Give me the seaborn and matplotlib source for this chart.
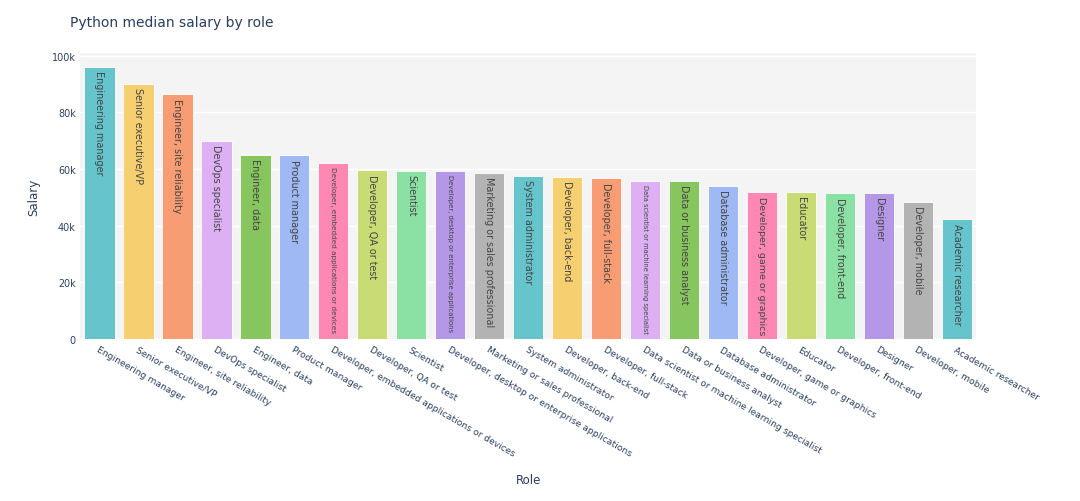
import pandas as pd
import matplotlib.pyplot as plt
import seaborn as sns
from matplotlib.ticker import FuncFormatter

roles = [
    "Engineering manager", "Senior executive/VP", "Engineer, site reliability",
    "DevOps specialist", "Engineer, data", "Product manager",
    "Developer, embedded applications or devices", "Developer, QA or test",
    "Scientist", "Developer, desktop or enterprise applications",
    "Marketing or sales professional", "System administrator",
    "Developer, back-end", "Developer, full-stack",
    "Data scientist or machine learning specialist", "Data or business analyst",
    "Database administrator", "Developer, game or graphics", "Educator",
    "Developer, front-end", "Designer", "Developer, mobile", "Academic researcher",
]
salary = [
    96100, 90000, 86400, 70000, 65000, 64800, 62300, 59600, 59300, 59300,
    58600, 57600, 57200, 56700, 55800, 55800, 54000, 51800, 51800, 51500,
    51500, 48500, 42200,
]

pastel = ["#66c5cc", "#f6cf71", "#f89c74", "#dcb0f2", "#87c55f", "#9eb9f3",
          "#fe88b1", "#c9db74", "#8be0a4", "#b497e7", "#b3b3b3"]
colors = [pastel[i % len(pastel)] for i in range(len(roles))]

df = pd.DataFrame({"Role": roles, "Salary": salary})

sns.set_theme(style="white")
plt.rcParams["font.family"] = ["DejaVu Sans"]
text_col = "#2a3f5f"

fig = plt.figure(figsize=(10.8, 5.02), dpi=100)
ax = fig.add_axes([0.074, 0.3227, 0.83, 0.57])
ax.set_facecolor("#f4f4f4")

sns.barplot(data=df, x="Role", y="Salary", hue="Role", palette=colors,
            legend=False, width=0.78, saturation=1, ax=ax,
            edgecolor="#ffffff", linewidth=0.6)

ax.set_ylim(0, 101000)
ax.set_xlim(-0.5, len(roles) - 0.5)
ax.set_yticks(range(0, 100001, 20000))
ax.yaxis.set_major_formatter(FuncFormatter(lambda v, p: "0" if v == 0 else f"{int(v/1000)}k"))
ax.grid(axis="y", color="white", linewidth=1)
ax.set_axisbelow(True)
for s in ax.spines.values():
    s.set_visible(False)

ax.tick_params(axis="y", length=0, pad=3, labelsize=6.9, labelcolor=text_col)
ax.tick_params(axis="x", length=0, pad=4, labelsize=6.6, labelcolor=text_col)
plt.setp(ax.get_xticklabels(), rotation=-30, ha="left", va="top", rotation_mode="anchor")

ax.set_xlabel("Role", fontsize=8.5, color=text_col)
ax.set_ylabel("Salary", fontsize=8.5, color=text_col, labelpad=8)
ax.xaxis.set_label_coords(0.5, -0.47)
fig.text(0.065, 0.955, "Python median salary by role", fontsize=10, color=text_col,
         ha="left", va="center")

# labels inside bars, shrunk to fit like plotly does
fig.canvas.draw()
renderer = fig.canvas.get_renderer()
px_per_unit = ax.transData.transform((0, 1000))[1] - ax.transData.transform((0, 0))[1]
for i, (r, v) in enumerate(zip(roles, salary)):
    t = ax.text(i, v - 1200, r, rotation=270, ha="center", va="top",
                fontsize=6.9, color="#444444")
    h = t.get_window_extent(renderer).height
    avail = v / 1000 * px_per_unit - 8
    if h > avail:
        t.set_fontsize(6.9 * avail / h)

fig.savefig("out.png", dpi=100)
